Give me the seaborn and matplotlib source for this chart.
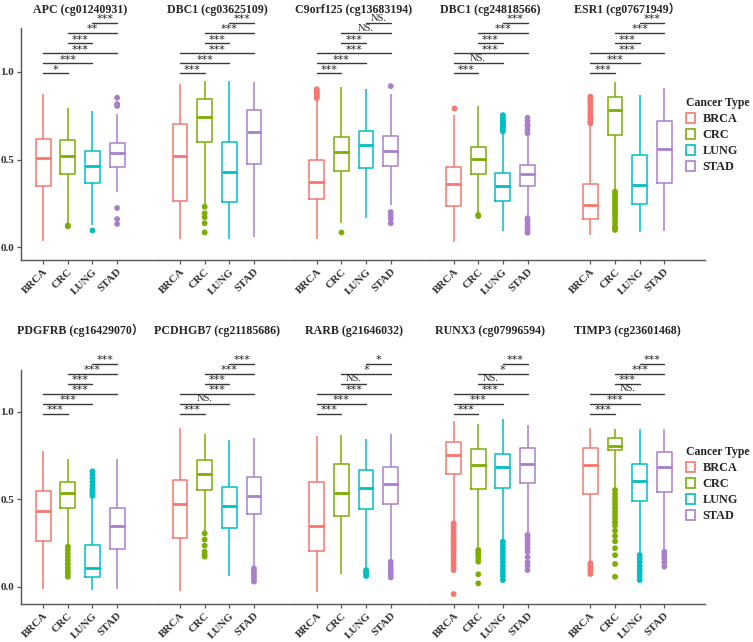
import numpy as np
import pandas as pd
import matplotlib
matplotlib.use("Agg")
import matplotlib.pyplot as plt
from matplotlib.patches import Patch
import seaborn as sns

types = ["BRCA", "CRC", "LUNG", "STAD"]
colors = ["#F8766D", "#7CAE00", "#00BFC4", "#A97FCB"]

titles = ["APC (cg01240931)", "DBC1 (cg03625109)", "C9orf125 (cg13683194)",
          "DBC1 (cg24818566)", "ESR1 (cg07671949）",
          "PDGFRB (cg16429070）", "PCDHGB7 (cg21185686)", "RARB (g21646032)",
          "RUNX3 (cg07996594)", "TIMP3 (cg23601468)"]

# box stats, one row per panel, columns BRCA/CRC/LUNG/STAD
whisk_hi = [[0.873, 0.791, 0.774, 0.757],
            [0.928, 0.949, 0.949, 0.943],
            [0.839, 0.915, 0.899, 0.871],
            [0.753, 0.805, 0.653, 0.645],
            [0.702, 0.943, 0.867, 0.905],
            [0.777, 0.729, 0.510, 0.729],
            [0.906, 0.872, 0.840, 0.849],
            [0.863, 0.866, 0.844, 0.872],
            [0.948, 0.929, 0.962, 0.924],
            [0.906, 0.901, 0.901, 0.901]]
q3 = [[0.615, 0.609, 0.546, 0.596],
      [0.702, 0.843, 0.598, 0.782],
      [0.497, 0.630, 0.662, 0.636],
      [0.457, 0.571, 0.423, 0.471],
      [0.362, 0.854, 0.524, 0.717],
      [0.550, 0.597, 0.239, 0.452],
      [0.611, 0.725, 0.569, 0.630],
      [0.597, 0.702, 0.666, 0.687],
      [0.826, 0.788, 0.761, 0.792],
      [0.796, 0.851, 0.702, 0.773]]
medians = [[0.507, 0.522, 0.463, 0.539],
           [0.520, 0.740, 0.431, 0.655],
           [0.370, 0.545, 0.581, 0.548],
           [0.359, 0.501, 0.347, 0.416],
           [0.243, 0.782, 0.355, 0.560],
           [0.431, 0.538, 0.105, 0.345],
           [0.475, 0.643, 0.460, 0.519],
           [0.349, 0.538, 0.567, 0.586],
           [0.754, 0.695, 0.685, 0.702],
           [0.695, 0.807, 0.603, 0.683]]
q1 = [[0.351, 0.419, 0.368, 0.459],
      [0.262, 0.602, 0.256, 0.476],
      [0.273, 0.433, 0.450, 0.463],
      [0.237, 0.417, 0.262, 0.351],
      [0.159, 0.639, 0.245, 0.368],
      [0.263, 0.452, 0.053, 0.214],
      [0.277, 0.555, 0.338, 0.418],
      [0.206, 0.405, 0.443, 0.471],
      [0.643, 0.559, 0.563, 0.594],
      [0.532, 0.782, 0.492, 0.544]]
whisk_lo = [[0.038, 0.133, 0.127, 0.313],
            [0.047, 0.247, 0.046, 0.057],
            [0.046, 0.137, 0.167, 0.241],
            [0.032, 0.194, 0.091, 0.175],
            [0.070, 0.326, 0.085, 0.093],
            [-0.015, 0.239, -0.019, -0.015],
            [-0.023, 0.315, 0.061, 0.111],
            [-0.029, 0.073, 0.105, 0.153],
            [0.372, 0.219, 0.267, 0.305],
            [0.143, 0.563, 0.191, 0.210]]

outliers = [
    [[], [0.125, 0.12], [0.099], [0.852, 0.816, 0.805, 0.224, 0.161, 0.133]],
    [[], [0.231, 0.194, 0.171, 0.137, 0.085], [], []],
    [[0.90, 0.89, 0.88, 0.87, 0.86, 0.85], [0.089], [], [0.918, 0.201, 0.181, 0.163, 0.137]],
    [[0.791], [0.185, 0.178],
     [0.753, 0.74, 0.73, 0.72, 0.71, 0.70, 0.69, 0.68, 0.67, 0.66],
     [0.738, 0.72, 0.70, 0.69, 0.67, 0.65, 0.165, 0.15, 0.13, 0.11, 0.095, 0.083]],
    [[0.858, 0.845, 0.83, 0.815, 0.80, 0.78, 0.76, 0.745, 0.73, 0.715, 0.706],
     [0.317, 0.30, 0.285, 0.27, 0.255, 0.24, 0.225, 0.21, 0.195, 0.18, 0.16, 0.14, 0.12, 0.11, 0.099],
     [], []],
    [[], [0.229, 0.21, 0.19, 0.17, 0.15, 0.13, 0.11, 0.09, 0.075, 0.057],
     [0.52, 0.53, 0.54, 0.55, 0.56, 0.58, 0.60, 0.62, 0.64, 0.66], []],
    [[], [0.305, 0.27, 0.235, 0.2, 0.185, 0.172], [], [0.105, 0.09, 0.075, 0.06, 0.045, 0.029]],
    [[], [], [0.095, 0.085, 0.075, 0.061], [0.143, 0.125, 0.105, 0.085, 0.07, 0.053]],
    [[0.363, 0.35, 0.335, 0.32, 0.30, 0.285, 0.27, 0.255, 0.24, 0.225, 0.21, 0.19, 0.17, 0.15,
      0.13, 0.11, 0.095, -0.042],
     [0.21, 0.195, 0.18, 0.165, 0.143, 0.071, 0.019],
     [0.258, 0.24, 0.22, 0.2, 0.18, 0.16, 0.14, 0.12, 0.1, 0.08, 0.06, 0.038],
     [0.296, 0.28, 0.26, 0.24, 0.22, 0.2, 0.17, 0.14, 0.12, 0.095]],
    [[0.134, 0.12, 0.105, 0.09, 0.073],
     [0.553, 0.53, 0.51, 0.49, 0.47, 0.45, 0.43, 0.41, 0.39, 0.37, 0.35, 0.32, 0.29, 0.26,
      0.22, 0.18, 0.13, 0.057],
     [0.181, 0.16, 0.14, 0.12, 0.1, 0.08, 0.06, 0.038],
     [0.200, 0.18, 0.16, 0.14, 0.115]],
]

# comparisons, bottom to top
pairs = [(0, 1), (0, 2), (0, 3), (1, 2), (1, 3), (2, 3)]
signif = [["*", "***", "***", "***", "**", "***"],
          ["***", "***", "***", "***", "***", "***"],
          ["***", "***", "***", "***", "NS.", "NS."],
          ["***", "NS.", "***", "***", "***", "***"],
          ["***", "***", "***", "***", "***", "***"],
          ["***", "***", "***", "***", "***", "***"],
          ["***", "NS.", "***", "***", "***", "***"],
          ["***", "***", "***", "NS.", "*", "*"],
          ["***", "***", "***", "NS.", "*", "***"],
          ["***", "***", "NS.", "***", "***", "***"]]

sns.set_style("ticks")
plt.rcParams['font.family'] = ['Liberation Serif', 'Noto Sans CJK SC']
plt.rcParams['font.weight'] = 'bold'

fig = plt.figure(figsize=(7.53, 6.42), dpi=100)
W, H = 753, 642
pw = 136.8
rows = [dict(top=28, bot=260, ylim=(-0.072, 1.249), pad=11),
        dict(top=370, bot=604, ylim=(-0.099, 1.240), pad=26)]

for i in range(10):
    r = rows[i // 5]
    c = i % 5
    ax = fig.add_axes([(21 + pw * c) / W, 1 - r['bot'] / H, pw / W, (r['bot'] - r['top']) / H])

    recs = []
    for k, t in enumerate(types):
        for v in [whisk_lo[i][k], q1[i][k], medians[i][k], q3[i][k], whisk_hi[i][k]]:
            recs.append((t, v))
    df = pd.DataFrame(recs, columns=['type', 'value'])
    sns.boxplot(data=df, x='type', y='value', hue='type', order=types, hue_order=types,
                palette=colors, fill=False, whis=(0, 100), width=0.6, linewidth=1.1,
                showfliers=False, showcaps=False, legend=False, ax=ax,
                medianprops=dict(linewidth=2))

    orecs = [(t, v) for k, t in enumerate(types) for v in outliers[i][k]]
    odf = pd.DataFrame(orecs, columns=['type', 'value'])
    sns.stripplot(data=odf, x='type', y='value', hue='type', order=types, hue_order=types,
                  palette=colors, jitter=False, size=4.2, linewidth=0, legend=False, ax=ax)

    for k, (a, b) in enumerate(pairs):
        y = 0.99 + 0.057 * k
        ax.plot([a, b], [y, y], color='#3a3a3a', lw=1.0, clip_on=False)
        lab = signif[i][k]
        if lab.startswith('*'):
            ax.text((a + b) / 2, y - 0.006, lab, ha='center', va='bottom',
                    fontsize=8, fontweight='normal', family='DejaVu Sans', color='#222222',
                    clip_on=False)
        else:
            ax.text((a + b) / 2, y + 0.002, lab, ha='center', va='bottom',
                    fontsize=7.5, fontweight='normal', color='#222222', clip_on=False)

    ax.set_xlim(-0.9, 4.65)
    ax.set_ylim(*r['ylim'])
    ax.set_xlabel('')
    ax.set_ylabel('')
    ax.set_title(titles[i], fontsize=8.6, fontweight='bold', x=0.432, pad=r['pad'])
    ax.set_yticks([0.0, 0.5, 1.0])
    ax.set_yticklabels(['0.0', '0.5', '1.0'])
    ax.tick_params(axis='both', length=3, width=0.9, colors='#555555')
    ax.tick_params(axis='x', labelsize=8, pad=2)
    ax.tick_params(axis='y', labelsize=8, pad=2)
    plt.setp(ax.get_xticklabels(), rotation=45, ha='right', rotation_mode='anchor',
             fontweight='bold', color='#333333')
    plt.setp(ax.get_yticklabels(), fontweight='bold', color='#333333')
    for s in ax.spines.values():
        s.set_color('#555555')
        s.set_linewidth(1.0)
    sns.despine(ax=ax, left=(c > 0))
    if c > 0:
        ax.tick_params(axis='y', left=False, labelleft=False)

handles = [Patch(facecolor='white', edgecolor=col, lw=1.2, label=t) for t, col in zip(types, colors)]
for ytop in [97, 446]:
    leg = fig.legend(handles=handles, title='Cancer Type', loc='upper left',
                     bbox_to_anchor=(686 / W, 1 - ytop / H), frameon=False,
                     borderpad=0, borderaxespad=0, handlelength=0.75, handleheight=0.9,
                     handletextpad=0.6, labelspacing=0.3, prop=dict(size=8.8, weight='bold'),
                     title_fontproperties=dict(size=8.5, weight='bold'))
    leg._legend_box.align = 'left'

plt.savefig('out.png', dpi=100)
